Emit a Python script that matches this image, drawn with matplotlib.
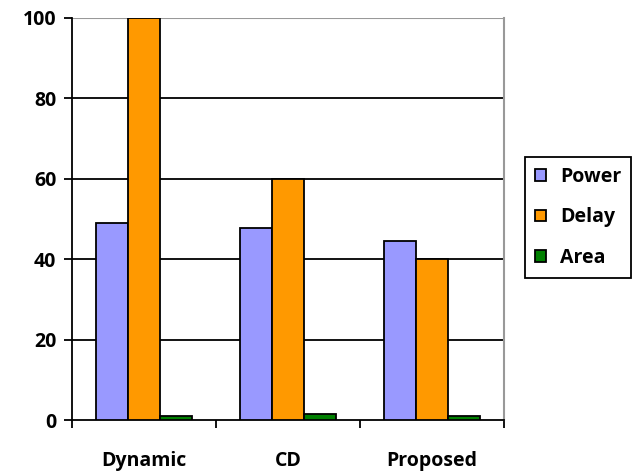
import matplotlib
matplotlib.use("Agg")
import matplotlib.pyplot as plt
import numpy as np

# Comparison values per method
methods = ["Dynamic", "CD", "Proposed"]
power = [49, 47.7, 44.6]
delay = [100, 60, 40]
area = [1.1, 1.5, 0.9]

series = [("Power", power, "#9999ff"), ("Delay", delay, "#ff9900"), ("Area", area, "#008000")]

plt.rcParams["font.family"] = ["Open Sans", "DejaVu Sans"]
plt.rcParams["font.weight"] = "bold"

fig = plt.figure(figsize=(6.39, 4.73), dpi=100)
ax = fig.add_axes([0.1122, 0.112, 0.677, 0.850])

x = np.arange(len(methods))
w = 0.222
for i, (name, vals, col) in enumerate(series):
    ax.bar(x + (i - 1) * w, vals, w, color=col, edgecolor="black", linewidth=1.3,
           label=name, zorder=3)

ax.set_xlim(-0.5, 2.5)
ax.set_ylim(0, 100)
ax.set_yticks(range(0, 101, 20))
for yv in range(20, 100, 20):
    ax.axhline(yv, color="black", linewidth=1.3, zorder=1)
ax.axhline(100, color="#999999", linewidth=1.5, zorder=1)

ax.set_xticks(x)
ax.set_xticklabels(methods, fontsize=14, fontweight="bold")
ax.tick_params(axis="x", which="major", length=0, pad=22)
ax.set_xticks([-0.5, 0.5, 1.5, 2.5], minor=True)
ax.tick_params(axis="x", which="minor", length=6, width=1.3, direction="out")
ax.tick_params(axis="y", length=6, width=1.3, direction="out", labelsize=14, pad=5)
for lbl in ax.get_yticklabels():
    lbl.set_fontweight("bold")

ax.spines["top"].set_visible(False)
ax.spines["right"].set_color("#999999")
ax.spines["right"].set_linewidth(1.5)
ax.spines["left"].set_linewidth(1.3)
ax.spines["bottom"].set_linewidth(1.3)

leg = ax.legend(loc="center left", bbox_to_anchor=(1.0485, 0.504), borderaxespad=0,
                fancybox=False, edgecolor="black", framealpha=1,
                prop={"size": 14, "weight": "bold"},
                handlelength=0.55, handleheight=0.55, handletextpad=0.75,
                labelspacing=1.05, borderpad=0.5)
leg.get_frame().set_linewidth(1.3)

fig.savefig("out.png", dpi=100)
